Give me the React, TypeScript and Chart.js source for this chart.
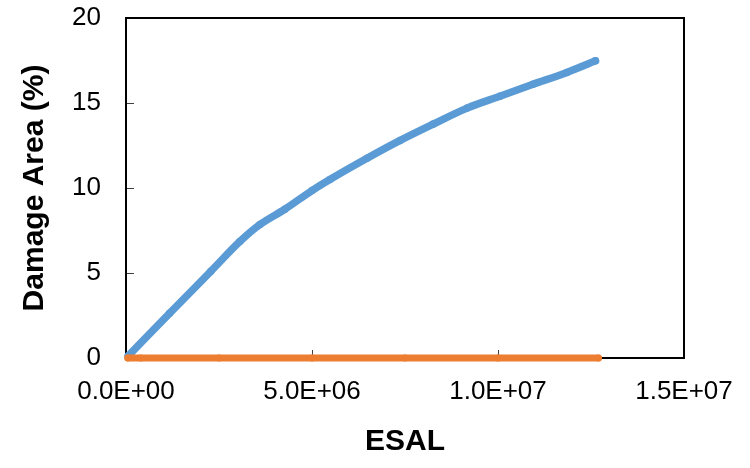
import { useEffect, useRef } from "react";
import { Chart, registerables } from "chart.js";

Chart.register(...registerables);

// Damage area (%) vs ESAL
const damageEsal = [0.06e6, 1.17e6, 2.28e6, 3.06e6, 3.6e6, 4.27e6, 5.0e6, 5.48e6, 6.48e6, 7.37e6, 8.25e6, 9.17e6, 10.05e6, 10.94e6, 11.85e6, 12.62e6];
const damageArea = [0.12, 2.63, 5.1, 6.85, 7.85, 8.75, 9.85, 10.5, 11.75, 12.8, 13.75, 14.7, 15.4, 16.1, 16.8, 17.48];

// Second series, flat at zero
const zeroEsal = [0.05e6, 0.4e6, 2.5e6, 5.0e6, 7.5e6, 10.0e6, 12.7e6];
const zeroArea = [0, 0, 0, 0, 0, 0, 0];

const xTickValues = [0, 5e6, 1e7, 1.5e7];
const yTickValues = [0, 5, 10, 15, 20];

const FONT = "'Liberation Sans', Arial, sans-serif";
const BLUE = "#5B9BD5";
const ORANGE = "#ED7D31";

function fmtSci(v: number): string {
  const [m, e] = v.toExponential(1).split("e");
  const n = parseInt(e, 10);
  return `${m}E${n < 0 ? "-" : "+"}${String(Math.abs(n)).padStart(2, "0")}`;
}

const framePlugin = {
  id: "frame",
  beforeDatasetsDraw(chart: any) {
    const { ctx, chartArea, scales } = chart;
    const { left, top, right, bottom } = chartArea;
    ctx.save();
    ctx.strokeStyle = "#404040";
    ctx.lineWidth = 1;
    yTickValues.forEach((v) => {
      const py = Math.round(scales.y.getPixelForValue(v)) + 0.5;
      ctx.beginPath();
      ctx.moveTo(left, py);
      ctx.lineTo(left + 8, py);
      ctx.stroke();
    });
    xTickValues.forEach((v) => {
      const px = Math.round(scales.x.getPixelForValue(v)) + 0.5;
      ctx.beginPath();
      ctx.moveTo(px, bottom);
      ctx.lineTo(px, bottom - 8);
      ctx.stroke();
    });
    ctx.strokeStyle = "#000";
    ctx.lineWidth = 2;
    ctx.strokeRect(left, top, right - left, bottom - top);
    ctx.restore();
  },
};

export default function App() {
  const ref = useRef<HTMLCanvasElement | null>(null);

  useEffect(() => {
    if (!ref.current) return;
    const chart = new Chart(ref.current, {
      type: "scatter",
      data: {
        datasets: [
          {
            label: "Series 2",
            data: zeroEsal.map((x, i) => ({ x, y: zeroArea[i] })),
            showLine: true,
            borderColor: ORANGE,
            backgroundColor: ORANGE,
            borderWidth: 7,
            borderCapStyle: "round",
            pointRadius: 3.5,
            pointBorderWidth: 0,
            clip: false as any,
          },
          {
            label: "Series 1",
            data: damageEsal.map((x, i) => ({ x, y: damageArea[i] })),
            showLine: true,
            borderColor: BLUE,
            backgroundColor: BLUE,
            borderWidth: 7.5,
            borderCapStyle: "round",
            borderJoinStyle: "round",
            cubicInterpolationMode: "monotone",
            pointRadius: 3.75,
            pointBorderWidth: 0,
            clip: false as any,
          },
        ],
      },
      options: {
        responsive: false,
        animation: false,
        devicePixelRatio: 1,
        layout: { padding: { left: 0, top: 18, right: 66, bottom: 0 } },
        plugins: {
          legend: { display: false },
          tooltip: { enabled: false },
        },
        scales: {
          x: {
            type: "linear",
            min: 0,
            max: 1.5e7,
            afterBuildTicks: (s: any) => {
              s.ticks = xTickValues.map((value) => ({ value }));
            },
            afterFit: (s: any) => {
              s.height = 110;
              s.paddingLeft = 0;
              s.paddingRight = 0;
            },
            ticks: {
              font: { family: FONT, size: 26 },
              color: "#000",
              padding: 18,
              maxRotation: 0,
              autoSkip: false,
              callback: (v: any) => fmtSci(Number(v)),
            },
            grid: { display: false, drawTicks: false },
            border: { display: false },
            title: {
              display: true,
              text: "ESAL",
              color: "#000",
              font: { family: FONT, size: 30, weight: "bold" },
              padding: { top: 0, bottom: 8 },
            },
          },
          y: {
            type: "linear",
            min: 0,
            max: 20,
            afterBuildTicks: (s: any) => {
              s.ticks = yTickValues.map((value) => ({ value }));
            },
            afterFit: (s: any) => {
              s.width = 126;
              s.paddingTop = 0;
              s.paddingBottom = 0;
            },
            ticks: {
              font: { family: FONT, size: 26 },
              color: "#000",
              padding: 25,
            },
            grid: { display: false, drawTicks: false },
            border: { display: false },
            title: {
              display: true,
              text: "Damage Area (%)",
              color: "#000",
              font: { family: FONT, size: 30, weight: "bold" },
              padding: { top: 17, bottom: 0 },
            },
          },
        },
      },
      plugins: [framePlugin],
    });
    return () => chart.destroy();
  }, []);

  return (
    <div style={{ position: "absolute", left: 0, top: 0, width: 750, height: 468, background: "#fff" }}>
      <canvas ref={ref} width={750} height={468} />
    </div>
  );
}
